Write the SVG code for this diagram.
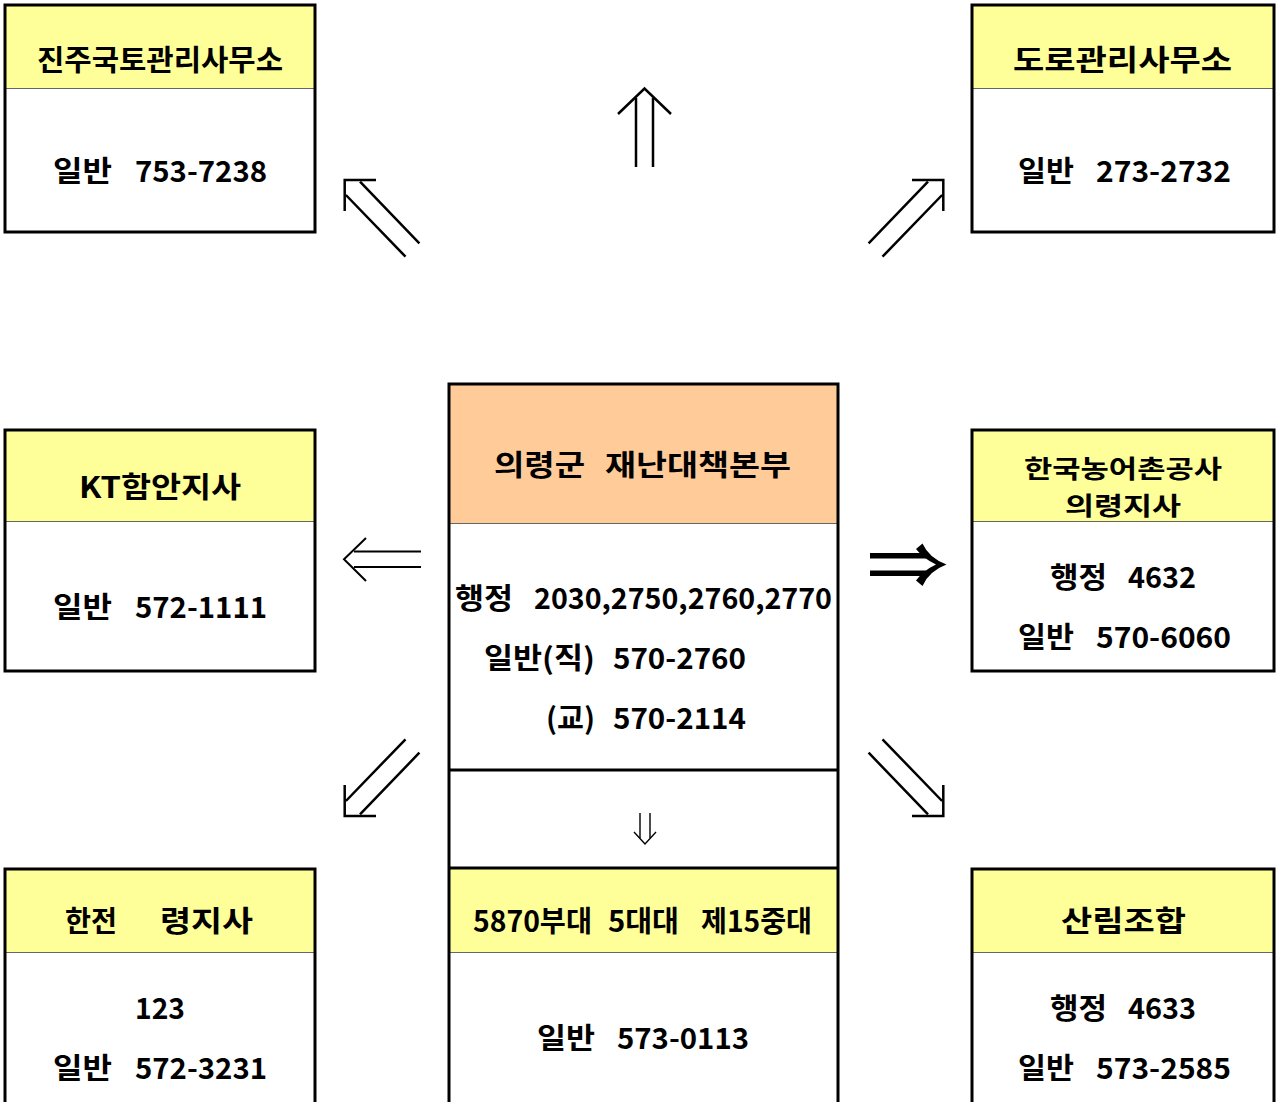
<svg xmlns="http://www.w3.org/2000/svg" width="1278" height="1102" viewBox="0 0 1278 1102">
<style>
.box{fill:none;stroke:#000;stroke-width:3}
.hdr{fill:#FFFF99}
.hdrc{fill:#FFCC99}
.sep{stroke:#666;stroke-width:1.2}
.div{stroke:#000;stroke-width:3}
.t{font-family:"Noto Sans CJK KR","Malgun Gothic",sans-serif;font-weight:bold;font-size:29px;fill:#000;white-space:pre}
.s{font-size:25px}
.c{text-anchor:middle}
.ar{fill:none;stroke:#000;stroke-width:2.5}
.ar2{fill:none;stroke:#000;stroke-width:2}
.ar3{fill:none;stroke:#000;stroke-width:1.4}
</style>
<rect width="1278" height="1102" fill="#fff"/>

<g id="node-jinju">
<rect class="hdr" x="5" y="5" width="310" height="83"/>
<line class="sep" x1="5" y1="88.5" x2="315" y2="88.5"/>
<rect class="box" x="5" y="5" width="310" height="227"/>
<text class="t" x="37" y="71" textLength="246" lengthAdjust="spacingAndGlyphs">진주국토관리사무소</text>
<text class="t" x="53" y="182" textLength="59" lengthAdjust="spacingAndGlyphs">일반</text>
<text class="t" x="135" y="182" textLength="132" lengthAdjust="spacingAndGlyphs">753-7238</text>
</g>

<g id="node-road">
<rect class="hdr" x="972" y="5" width="302" height="83"/>
<line class="sep" x1="972" y1="88.5" x2="1274" y2="88.5"/>
<rect class="box" x="972" y="5" width="302" height="227"/>
<text class="t" x="1013" y="71" textLength="219" lengthAdjust="spacingAndGlyphs">도로관리사무소</text>
<text class="t" x="1018" y="182" textLength="56" lengthAdjust="spacingAndGlyphs">일반</text>
<text class="t" x="1096" y="182" textLength="135" lengthAdjust="spacingAndGlyphs">273-2732</text>
</g>

<g id="node-kt">
<rect class="hdr" x="5" y="430" width="310" height="91"/>
<line class="sep" x1="5" y1="521.5" x2="315" y2="521.5"/>
<rect class="box" x="5" y="430" width="310" height="241"/>
<text class="t" x="79" y="498" textLength="162" lengthAdjust="spacingAndGlyphs">KT함안지사</text>
<text class="t" x="53" y="618" textLength="59" lengthAdjust="spacingAndGlyphs">일반</text>
<text class="t" x="135" y="618" textLength="132" lengthAdjust="spacingAndGlyphs">572-1111</text>
</g>

<g id="node-center">
<rect class="hdrc" x="449" y="384" width="389" height="139"/>
<line class="sep" x1="449" y1="523.5" x2="838" y2="523.5"/>
<rect class="hdr" x="449" y="868" width="389" height="84"/>
<line class="sep" x1="449" y1="952.5" x2="838" y2="952.5"/>
<line class="div" x1="449" y1="770" x2="838" y2="770"/>
<line class="div" x1="449" y1="868" x2="838" y2="868"/>
<rect class="box" x="449" y="384" width="389" height="730"/>
<text class="t" x="494" y="476" textLength="91" lengthAdjust="spacingAndGlyphs">의령군</text>
<text class="t" x="605" y="476" textLength="186" lengthAdjust="spacingAndGlyphs">재난대책본부</text>
<text class="t" x="455" y="609" textLength="58" lengthAdjust="spacingAndGlyphs">행정</text>
<text class="t" x="534" y="609" textLength="298" lengthAdjust="spacingAndGlyphs">2030,2750,2760,2770</text>
<text class="t" x="484" y="669" textLength="111" lengthAdjust="spacingAndGlyphs">일반(직)</text>
<text class="t" x="613" y="669" textLength="133" lengthAdjust="spacingAndGlyphs">570-2760</text>
<text class="t" x="546" y="729" textLength="49" lengthAdjust="spacingAndGlyphs">(교)</text>
<text class="t" x="613" y="729" textLength="133" lengthAdjust="spacingAndGlyphs">570-2114</text>
</g>

<g id="node-5870">
<text class="t" x="473" y="932" textLength="119" lengthAdjust="spacingAndGlyphs">5870부대</text>
<text class="t" x="608" y="932" textLength="71" lengthAdjust="spacingAndGlyphs">5대대</text>
<text class="t" x="701" y="932" textLength="111" lengthAdjust="spacingAndGlyphs">제15중대</text>
<text class="t" x="537" y="1049" textLength="58" lengthAdjust="spacingAndGlyphs">일반</text>
<text class="t" x="617" y="1049" textLength="132" lengthAdjust="spacingAndGlyphs">573-0113</text>
</g>

<g id="node-krc">
<rect class="hdr" x="972" y="430" width="302" height="91"/>
<line class="sep" x1="972" y1="521.5" x2="1274" y2="521.5"/>
<rect class="box" x="972" y="430" width="302" height="241"/>
<text class="t s" x="1024" y="478" textLength="198" lengthAdjust="spacingAndGlyphs">한국농어촌공사</text>
<text class="t s" x="1065" y="515" textLength="116" lengthAdjust="spacingAndGlyphs">의령지사</text>
<text class="t" x="1050" y="588" textLength="57" lengthAdjust="spacingAndGlyphs">행정</text>
<text class="t" x="1128" y="588" textLength="68" lengthAdjust="spacingAndGlyphs">4632</text>
<text class="t" x="1018" y="648" textLength="56" lengthAdjust="spacingAndGlyphs">일반</text>
<text class="t" x="1096" y="648" textLength="135" lengthAdjust="spacingAndGlyphs">570-6060</text>
</g>

<g id="node-kepco">
<rect class="hdr" x="5" y="869" width="310" height="83"/>
<line class="sep" x1="5" y1="952.5" x2="315" y2="952.5"/>
<rect class="box" x="5" y="869" width="310" height="245"/>
<text class="t" x="65" y="932" textLength="52" lengthAdjust="spacingAndGlyphs">한전</text>
<text class="t" x="160" y="932" textLength="93" lengthAdjust="spacingAndGlyphs">령지사</text>
<text class="t" x="135" y="1019" textLength="50" lengthAdjust="spacingAndGlyphs">123</text>
<text class="t" x="53" y="1079" textLength="59" lengthAdjust="spacingAndGlyphs">일반</text>
<text class="t" x="135" y="1079" textLength="132" lengthAdjust="spacingAndGlyphs">572-3231</text>
</g>

<g id="node-forest">
<rect class="hdr" x="972" y="869" width="302" height="83"/>
<line class="sep" x1="972" y1="952.5" x2="1274" y2="952.5"/>
<rect class="box" x="972" y="869" width="302" height="245"/>
<text class="t" x="1061" y="932" textLength="125" lengthAdjust="spacingAndGlyphs">산림조합</text>
<text class="t" x="1050" y="1019" textLength="57" lengthAdjust="spacingAndGlyphs">행정</text>
<text class="t" x="1128" y="1019" textLength="68" lengthAdjust="spacingAndGlyphs">4633</text>
<text class="t" x="1018" y="1079" textLength="56" lengthAdjust="spacingAndGlyphs">일반</text>
<text class="t" x="1096" y="1079" textLength="135" lengthAdjust="spacingAndGlyphs">573-2585</text>
</g>

<g id="connectors">
<path class="ar" d="M618,114 L644.5,88.5 L671,114"/>
<path class="ar" d="M636,98 V167 M653,98 V167"/>
<path class="ar" d="M344.7,211 V180 H376"/>
<path class="ar" d="M360,181.7 L419.4,243.3 M345.9,195 L405.5,256.7"/>
<path class="ar" d="M943.3,211 V180 H912"/>
<path class="ar" d="M928,181.7 L868.6,243.3 M942.1,195 L882.5,256.7"/>
<path class="ar2" d="M366,538 L344,559.3 L366,581"/>
<path class="ar2" d="M354,551.5 H421 M354,567 H421"/>
<rect x="870" y="553" width="56" height="5.5" fill="#000"/>
<rect x="870" y="570.5" width="56" height="5.5" fill="#000"/>
<path fill="#000" d="M916,549 L922.5,543.5 Q929,558 946.5,564.5 Q929,571 922.5,586 L916,580.5 Q924,570 936,564.5 Q924,559 916,549 Z"/>
<path class="ar" d="M344.7,785 V816 H376"/>
<path class="ar" d="M360,814.3 L419.4,752.7 M345.9,801 L405.5,739.3"/>
<path class="ar" d="M943.3,785 V816 H912"/>
<path class="ar" d="M928,814.3 L868.6,752.7 M942.1,801 L882.5,739.3"/>
<path class="ar3" d="M634,832 L645,844 L656,832"/>
<path class="ar3" d="M640,813 V838 M650,813 V838"/>
</g>
</svg>
